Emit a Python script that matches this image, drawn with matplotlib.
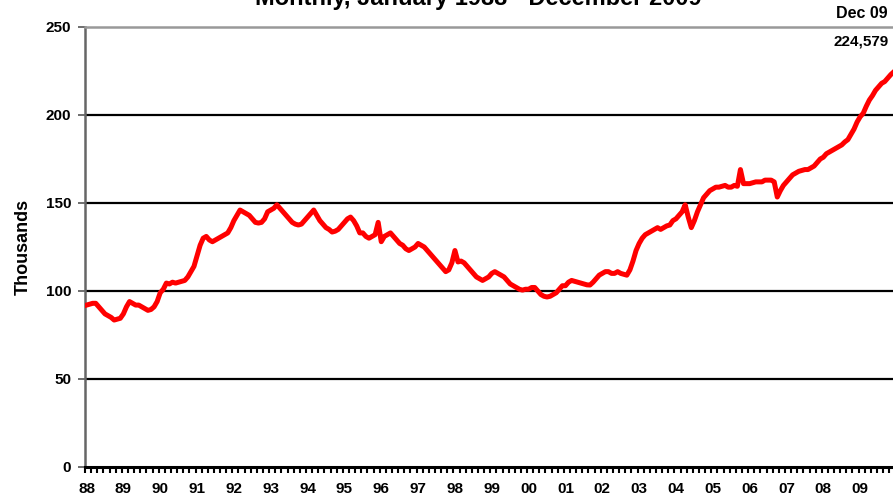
import matplotlib
matplotlib.use("Agg")
import matplotlib.pyplot as plt
import numpy as np

plt.rcParams['font.family'] = ['Liberation Sans', 'DejaVu Sans']

years = ["88", "89", "90", "91", "92", "93", "94", "95", "96", "97", "98",
         "99", "00", "01", "02", "03", "04", "05", "06", "07", "08", "09"]

v1988 = [92, 92.5, 93, 93, 91, 89, 87, 86, 85, 83.5, 84, 84.5]
v1989 = [87, 91, 94, 93, 92, 92, 91, 90, 89, 89.5, 91, 94]
v1990 = [99, 101, 104.5, 104, 105, 104.5, 105, 105.5, 106, 108, 111, 114]
v1991 = [120, 126, 130, 131, 129, 128, 129, 130, 131, 132, 133, 136]
v1992 = [140, 143, 146, 145, 144, 143, 141, 139, 138.6, 139, 141, 145]
v1993 = [146, 147, 149, 147, 145, 143, 141, 139, 138, 137.5, 138, 140]
v1994 = [142, 144, 146, 143, 140, 138, 136, 135, 133.5, 134, 135, 137]
v1995 = [139, 141, 142, 140, 137, 133, 133, 131, 130, 131, 132, 139]
v1996 = [128, 131, 132, 133, 131, 129, 127, 126, 124, 123, 124, 125]
v1997 = [127, 126, 125, 123, 121, 119, 117, 115, 113, 111, 112, 116]
v1998 = [123, 116.5, 117, 116, 114, 112, 110, 108, 107, 106, 107, 108]
v1999 = [110, 111, 110, 109, 108, 106, 104, 103, 102, 101, 100.5, 101]
v2000 = [101, 102, 102, 100, 98, 97, 96.6, 97, 98, 99, 101, 103]
v2001 = [103, 105, 106, 105.5, 105, 104.5, 104, 103.5, 103.4, 105, 107, 109]
v2002 = [110, 111, 111, 110, 110, 111, 110, 109.5, 109, 112, 117, 123]
v2003 = [127, 130, 132, 133, 134, 135, 136, 135, 136, 137, 137.5, 140]
v2004 = [141, 143, 145, 149, 142, 136, 140, 145, 149, 153, 155, 157]
v2005 = [158, 159, 159, 159.5, 160, 159, 159, 160, 159.5, 169, 161, 161]
v2006 = [161, 161.5, 162, 162, 162, 163, 163, 163, 162, 153.4, 157, 160]
v2007 = [162, 164, 166, 167, 168, 168.5, 169, 169, 170, 171, 173, 175]
v2008 = [176, 178, 179, 180, 181, 182, 183, 184.7, 186, 189, 192, 196]
v2009 = [199, 201, 205, 208.5, 211, 214, 216, 218, 219, 221, 223, 224.579]

values = (v1988 + v1989 + v1990 + v1991 + v1992 + v1993 + v1994 + v1995 +
          v1996 + v1997 + v1998 + v1999 + v2000 + v2001 + v2002 + v2003 +
          v2004 + v2005 + v2006 + v2007 + v2008 + v2009)

W, H = 893, 503
fig = plt.figure(figsize=(W / 100, H / 100), dpi=100)
ax_left = 85 / W
ax_bottom = (H - 467) / H
ax_height = 440 / H
ax_width = 812 / W
ax = fig.add_axes([ax_left, ax_bottom, ax_width, ax_height])

x = np.arange(len(values))
ax.plot(x, values, color='#ff0000', lw=3.6, solid_joinstyle='round', zorder=3)

ax.set_xlim(-0.5, len(values) - 0.5)
ax.set_ylim(0, 250)

ax.set_yticks([0, 50, 100, 150, 200, 250])
ax.set_yticklabels(['0', '50', '100', '150', '200', '250'], fontsize=11, fontweight='bold')
for yv in [50, 100, 150, 200]:
    ax.axhline(yv, color='black', lw=1.6, zorder=1)

ax.set_xticks(np.arange(0, len(values) + 1, 12))
ax.set_xticklabels(years + [''], fontsize=11, fontweight='bold')
ax.set_xticks(np.arange(0, len(values), 2) - 0.5, minor=True)
ax.tick_params(axis='x', which='major', length=0, pad=11)
ax.tick_params(axis='x', which='minor', length=4, width=1.5, color='black', direction='out')
ax.tick_params(axis='y', length=5, width=1.2, color='#555555', pad=5)

ax.spines['top'].set_color('#999999')
ax.spines['top'].set_linewidth(1.8)
ax.spines['left'].set_color('#666666')
ax.spines['left'].set_linewidth(1.8)
ax.spines['bottom'].set_color('black')
ax.spines['bottom'].set_linewidth(2.2)
ax.spines['right'].set_visible(False)

ax.set_ylabel('Thousands', fontsize=13, fontweight='bold', labelpad=10)

fig.text(478 / W, 1 - 5 / H, 'Monthly, January 1988 - December 2009',
         ha='center', va='baseline', fontsize=17, fontweight='bold')
fig.text(862 / W, 1 - 13 / H, 'Dec 09', ha='center', va='center',
         fontsize=11.5, fontweight='bold')
fig.text(834 / W, 1 - 42 / H, '224,579', ha='left', va='center',
         fontsize=11, fontweight='bold')

fig.savefig('out.png', dpi=100)
